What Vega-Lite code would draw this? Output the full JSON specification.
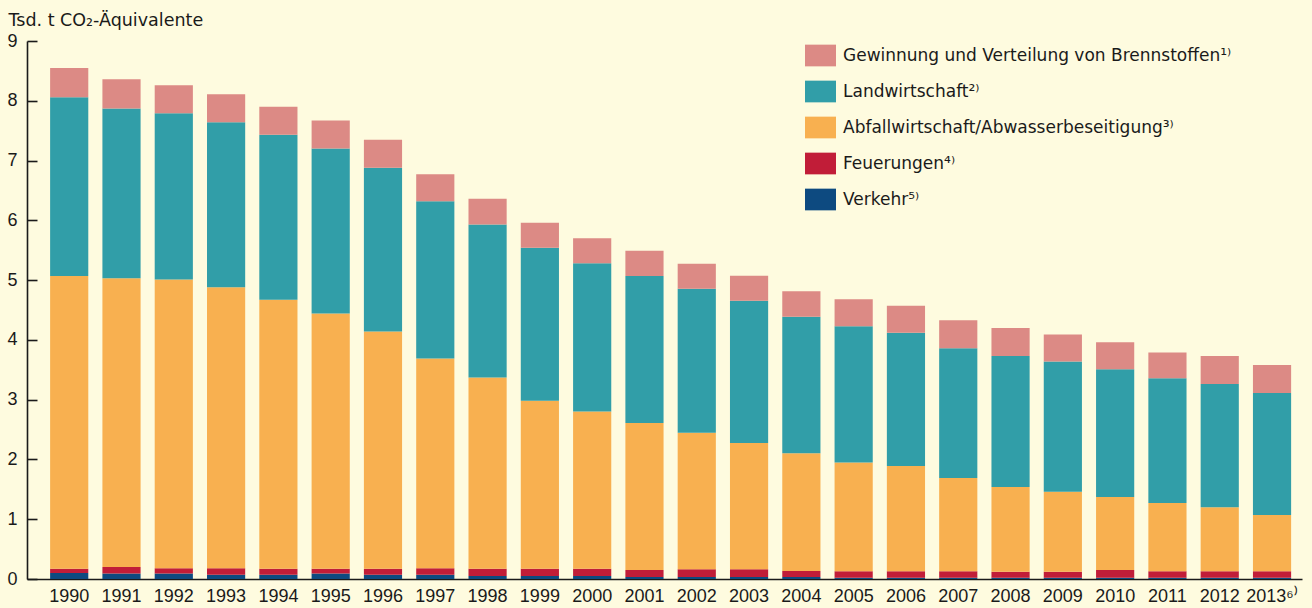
{
  "$schema": "https://vega.github.io/schema/vega-lite/v6.json",
  "width": 1275,
  "height": 538,
  "autosize": {"type": "none"},
  "padding": {"left": 27, "top": 41, "right": 10, "bottom": 29},
  "background": "#fefbdf",
  "config": {"view": {"stroke": null}, "font": "DejaVu Sans"},
  "data": {
    "values": [
      {"year": "1990", "Verkehr⁵⁾": 0.10, "Feuerungen⁴⁾": 0.07, "Abfallwirtschaft/Abwasserbeseitigung³⁾": 4.90, "Landwirtschaft²⁾": 2.99, "Gewinnung und Verteilung von Brennstoffen¹⁾": 0.49},
      {"year": "1991", "Verkehr⁵⁾": 0.09, "Feuerungen⁴⁾": 0.11, "Abfallwirtschaft/Abwasserbeseitigung³⁾": 4.83, "Landwirtschaft²⁾": 2.84, "Gewinnung und Verteilung von Brennstoffen¹⁾": 0.49},
      {"year": "1992", "Verkehr⁵⁾": 0.09, "Feuerungen⁴⁾": 0.09, "Abfallwirtschaft/Abwasserbeseitigung³⁾": 4.83, "Landwirtschaft²⁾": 2.78, "Gewinnung und Verteilung von Brennstoffen¹⁾": 0.47},
      {"year": "1993", "Verkehr⁵⁾": 0.07, "Feuerungen⁴⁾": 0.11, "Abfallwirtschaft/Abwasserbeseitigung³⁾": 4.70, "Landwirtschaft²⁾": 2.76, "Gewinnung und Verteilung von Brennstoffen¹⁾": 0.47},
      {"year": "1994", "Verkehr⁵⁾": 0.07, "Feuerungen⁴⁾": 0.10, "Abfallwirtschaft/Abwasserbeseitigung³⁾": 4.50, "Landwirtschaft²⁾": 2.76, "Gewinnung und Verteilung von Brennstoffen¹⁾": 0.47},
      {"year": "1995", "Verkehr⁵⁾": 0.09, "Feuerungen⁴⁾": 0.08, "Abfallwirtschaft/Abwasserbeseitigung³⁾": 4.27, "Landwirtschaft²⁾": 2.76, "Gewinnung und Verteilung von Brennstoffen¹⁾": 0.47},
      {"year": "1996", "Verkehr⁵⁾": 0.07, "Feuerungen⁴⁾": 0.10, "Abfallwirtschaft/Abwasserbeseitigung³⁾": 3.97, "Landwirtschaft²⁾": 2.74, "Gewinnung und Verteilung von Brennstoffen¹⁾": 0.47},
      {"year": "1997", "Verkehr⁵⁾": 0.07, "Feuerungen⁴⁾": 0.11, "Abfallwirtschaft/Abwasserbeseitigung³⁾": 3.51, "Landwirtschaft²⁾": 2.63, "Gewinnung und Verteilung von Brennstoffen¹⁾": 0.45},
      {"year": "1998", "Verkehr⁵⁾": 0.05, "Feuerungen⁴⁾": 0.12, "Abfallwirtschaft/Abwasserbeseitigung³⁾": 3.20, "Landwirtschaft²⁾": 2.56, "Gewinnung und Verteilung von Brennstoffen¹⁾": 0.43},
      {"year": "1999", "Verkehr⁵⁾": 0.05, "Feuerungen⁴⁾": 0.12, "Abfallwirtschaft/Abwasserbeseitigung³⁾": 2.81, "Landwirtschaft²⁾": 2.56, "Gewinnung und Verteilung von Brennstoffen¹⁾": 0.42},
      {"year": "2000", "Verkehr⁵⁾": 0.05, "Feuerungen⁴⁾": 0.12, "Abfallwirtschaft/Abwasserbeseitigung³⁾": 2.63, "Landwirtschaft²⁾": 2.48, "Gewinnung und Verteilung von Brennstoffen¹⁾": 0.42},
      {"year": "2001", "Verkehr⁵⁾": 0.035, "Feuerungen⁴⁾": 0.115, "Abfallwirtschaft/Abwasserbeseitigung³⁾": 2.46, "Landwirtschaft²⁾": 2.46, "Gewinnung und Verteilung von Brennstoffen¹⁾": 0.42},
      {"year": "2002", "Verkehr⁵⁾": 0.035, "Feuerungen⁴⁾": 0.13, "Abfallwirtschaft/Abwasserbeseitigung³⁾": 2.28, "Landwirtschaft²⁾": 2.41, "Gewinnung und Verteilung von Brennstoffen¹⁾": 0.42},
      {"year": "2003", "Verkehr⁵⁾": 0.035, "Feuerungen⁴⁾": 0.13, "Abfallwirtschaft/Abwasserbeseitigung³⁾": 2.11, "Landwirtschaft²⁾": 2.38, "Gewinnung und Verteilung von Brennstoffen¹⁾": 0.42},
      {"year": "2004", "Verkehr⁵⁾": 0.035, "Feuerungen⁴⁾": 0.10, "Abfallwirtschaft/Abwasserbeseitigung³⁾": 1.97, "Landwirtschaft²⁾": 2.28, "Gewinnung und Verteilung von Brennstoffen¹⁾": 0.43},
      {"year": "2005", "Verkehr⁵⁾": 0.02, "Feuerungen⁴⁾": 0.11, "Abfallwirtschaft/Abwasserbeseitigung³⁾": 1.82, "Landwirtschaft²⁾": 2.28, "Gewinnung und Verteilung von Brennstoffen¹⁾": 0.45},
      {"year": "2006", "Verkehr⁵⁾": 0.02, "Feuerungen⁴⁾": 0.11, "Abfallwirtschaft/Abwasserbeseitigung³⁾": 1.76, "Landwirtschaft²⁾": 2.23, "Gewinnung und Verteilung von Brennstoffen¹⁾": 0.45},
      {"year": "2007", "Verkehr⁵⁾": 0.02, "Feuerungen⁴⁾": 0.11, "Abfallwirtschaft/Abwasserbeseitigung³⁾": 1.56, "Landwirtschaft²⁾": 2.17, "Gewinnung und Verteilung von Brennstoffen¹⁾": 0.47},
      {"year": "2008", "Verkehr⁵⁾": 0.02, "Feuerungen⁴⁾": 0.10, "Abfallwirtschaft/Abwasserbeseitigung³⁾": 1.42, "Landwirtschaft²⁾": 2.19, "Gewinnung und Verteilung von Brennstoffen¹⁾": 0.47},
      {"year": "2009", "Verkehr⁵⁾": 0.02, "Feuerungen⁴⁾": 0.10, "Abfallwirtschaft/Abwasserbeseitigung³⁾": 1.34, "Landwirtschaft²⁾": 2.18, "Gewinnung und Verteilung von Brennstoffen¹⁾": 0.45},
      {"year": "2010", "Verkehr⁵⁾": 0.02, "Feuerungen⁴⁾": 0.13, "Abfallwirtschaft/Abwasserbeseitigung³⁾": 1.22, "Landwirtschaft²⁾": 2.14, "Gewinnung und Verteilung von Brennstoffen¹⁾": 0.45},
      {"year": "2011", "Verkehr⁵⁾": 0.02, "Feuerungen⁴⁾": 0.11, "Abfallwirtschaft/Abwasserbeseitigung³⁾": 1.14, "Landwirtschaft²⁾": 2.09, "Gewinnung und Verteilung von Brennstoffen¹⁾": 0.43},
      {"year": "2012", "Verkehr⁵⁾": 0.02, "Feuerungen⁴⁾": 0.11, "Abfallwirtschaft/Abwasserbeseitigung³⁾": 1.07, "Landwirtschaft²⁾": 2.06, "Gewinnung und Verteilung von Brennstoffen¹⁾": 0.47},
      {"year": "2013", "Verkehr⁵⁾": 0.02, "Feuerungen⁴⁾": 0.11, "Abfallwirtschaft/Abwasserbeseitigung³⁾": 0.94, "Landwirtschaft²⁾": 2.04, "Gewinnung und Verteilung von Brennstoffen¹⁾": 0.47}
    ]
  },
  "transform": [
    {"fold": ["Verkehr⁵⁾", "Feuerungen⁴⁾", "Abfallwirtschaft/Abwasserbeseitigung³⁾", "Landwirtschaft²⁾", "Gewinnung und Verteilung von Brennstoffen¹⁾"], "as": ["sector", "value"]}
  ],
  "mark": {"type": "bar"},
  "encoding": {
    "x": {
      "field": "year",
      "type": "ordinal",
      "scale": {"paddingInner": 0.27, "paddingOuter": 0.325, "align": 0.68},
      "axis": {
        "title": null,
        "labelAngle": 0,
        "ticks": false,
        "domainColor": "#1a1a1a",
        "domainWidth": 1.6,
        "labelFont": "Liberation Sans",
        "labelFontSize": 18,
        "labelColor": "#1a1a1a",
        "labelPadding": 8,
        "labelExpr": "datum.value == '2013' ? '2013⁶⁾' : datum.label"
      }
    },
    "y": {
      "field": "value",
      "type": "quantitative",
      "stack": "zero",
      "scale": {"domain": [0, 9], "nice": false},
      "axis": {
        "values": [0, 1, 2, 3, 4, 5, 6, 7, 8, 9],
        "grid": false,
        "tickSize": -10,
        "tickColor": "#1a1a1a",
        "tickWidth": 1.6,
        "domainColor": "#1a1a1a",
        "domainWidth": 1.6,
        "labelFont": "Liberation Sans",
        "labelFontSize": 18,
        "labelColor": "#1a1a1a",
        "labelPadding": 20,
        "title": "Tsd. t CO₂-Äquivalente",
        "titleFont": "DejaVu Sans",
        "titleFontSize": 17.5,
        "titleFontWeight": "normal",
        "titleColor": "#1a1a1a",
        "titleAngle": 0,
        "titleAlign": "left",
        "titleBaseline": "alphabetic",
        "titleX": -19,
        "titleY": -16
      }
    },
    "color": {
      "field": "sector",
      "type": "nominal",
      "sort": ["Verkehr⁵⁾", "Feuerungen⁴⁾", "Abfallwirtschaft/Abwasserbeseitigung³⁾", "Landwirtschaft²⁾", "Gewinnung und Verteilung von Brennstoffen¹⁾"],
      "scale": {
        "domain": ["Verkehr⁵⁾", "Feuerungen⁴⁾", "Abfallwirtschaft/Abwasserbeseitigung³⁾", "Landwirtschaft²⁾", "Gewinnung und Verteilung von Brennstoffen¹⁾"],
        "range": ["#0d4a80", "#c11d38", "#f8b050", "#319ea8", "#dc8a85"]
      },
      "legend": {
        "title": null,
        "orient": "none",
        "legendX": 778,
        "legendY": -1,
        "padding": 0,
        "values": ["Gewinnung und Verteilung von Brennstoffen¹⁾", "Landwirtschaft²⁾", "Abfallwirtschaft/Abwasserbeseitigung³⁾", "Feuerungen⁴⁾", "Verkehr⁵⁾"],
        "symbolType": "M-1,-0.7H1V0.7H-1Z",
        "symbolSize": 961,
        "symbolStrokeWidth": 0,
        "symbolOpacity": 1,
        "rowPadding": 9,
        "labelOffset": 7,
        "labelFont": "DejaVu Sans",
        "labelFontSize": 17,
        "labelColor": "#1a1a1a",
        "labelLimit": 500
      }
    },
    "order": {"field": "sector_sort_index"}
  }
}
